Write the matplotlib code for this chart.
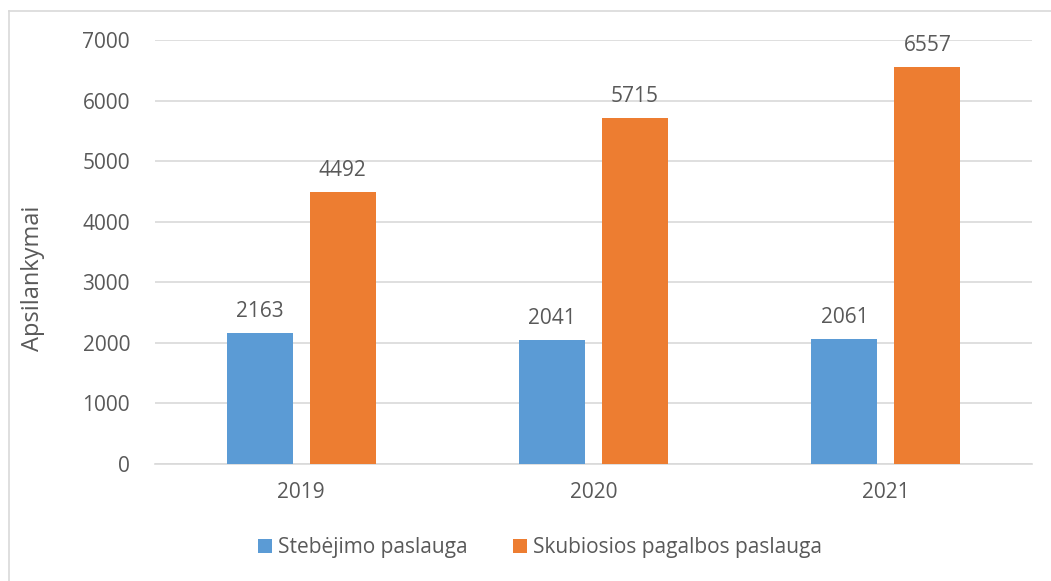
import matplotlib
matplotlib.use("Agg")
import matplotlib.pyplot as plt
import numpy as np
from matplotlib.lines import Line2D

years = ["2019", "2020", "2021"]
series_names = ["Stebėjimo paslauga", "Skubiosios pagalbos paslauga"]
stebejimo = [2163, 2041, 2061]
skubiosios = [4492, 5715, 6557]
yticks = [0, 1000, 2000, 3000, 4000, 5000, 6000, 7000]

plt.rcParams['font.family'] = ['Open Sans', 'DejaVu Sans']
txt = '#595959'
grid = '#D9D9D9'
blue = '#5B9BD5'
orange = '#ED7D31'
fs = 15

fig = plt.figure(figsize=(10.51, 5.81), dpi=100)
ax = fig.add_axes([155/1051, 1-464/581, (1032-155)/1051, (464-40)/581])

x = np.arange(len(years))
w = 0.226
off = 0.142
b1 = ax.bar(x - off, stebejimo, w, color=blue, label=series_names[0], zorder=3)
b2 = ax.bar(x + off, skubiosios, w, color=orange, label=series_names[1], zorder=3)

for bars in (b1, b2):
    for r in bars:
        ax.annotate(f"{int(r.get_height())}", (r.get_x() + r.get_width()/2, r.get_height()),
                    xytext=(0, 8), textcoords='offset points', ha='center', va='bottom',
                    fontsize=fs, color=txt)

ax.set_xlim(-0.5, 2.5)
ax.set_ylim(0, 7000)
ax.set_yticks(yticks)
ax.set_xticks(x)
ax.set_xticklabels(years)
ax.yaxis.grid(True, color=grid, linewidth=1.2, zorder=0)
ax.set_axisbelow(True)
for s in ['top', 'right', 'left']:
    ax.spines[s].set_visible(False)
ax.spines['bottom'].set_color(grid)
ax.spines['bottom'].set_linewidth(1.2)
ax.tick_params(axis='both', length=0, labelsize=fs, labelcolor=txt)
ax.tick_params(axis='y', pad=18)
ax.tick_params(axis='x', pad=13)
ax.set_ylabel("Apsilankymai", fontsize=17, color=txt)
ax.yaxis.set_label_coords((45-155)/877, (464-278)/424)

leg = fig.legend(handles=[b1, b2], labels=series_names, loc='center', bbox_to_anchor=(540/1051, 1-548/581),
                 ncol=2, frameon=False, fontsize=fs, handlelength=0.65, handleheight=0.65,
                 handletextpad=0.3, columnspacing=2.2, labelcolor=txt)

# partial outer border (left and top visible)
fig.add_artist(Line2D([9/1051, 9/1051], [0, 1-11/581], transform=fig.transFigure, color=grid, linewidth=1.2))
fig.add_artist(Line2D([9/1051, 1], [1-11/581, 1-11/581], transform=fig.transFigure, color=grid, linewidth=1.2))

fig.savefig("out.png", dpi=100)
